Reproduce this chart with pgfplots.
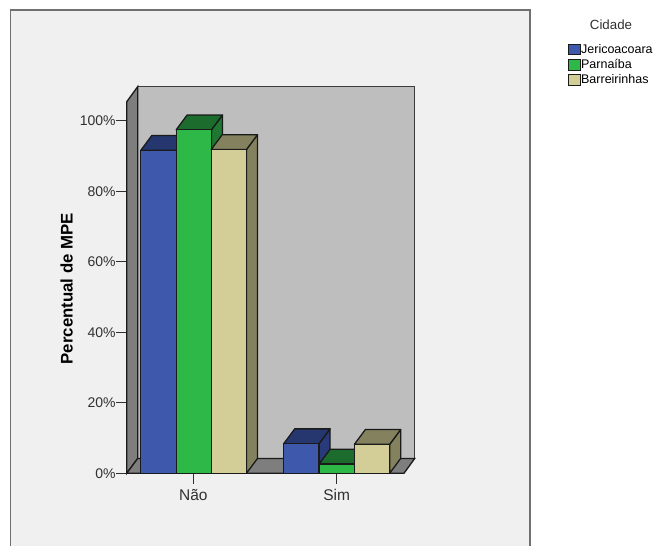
\documentclass[border=0pt]{standalone}
\usepackage{fontspec}
\setmainfont{Liberation Sans}
\usepackage{pgfplots}
\pgfplotsset{compat=1.18}

\definecolor{panelfill}{HTML}{F0F0F0}
\definecolor{panelline}{HTML}{707070}
\definecolor{wallback}{HTML}{BEBEBE}
\definecolor{wallside}{HTML}{7E7E7E}
\definecolor{edge}{HTML}{1A1A1A}
\definecolor{labeltext}{HTML}{303030}
\definecolor{blueF}{HTML}{3E58AC}
\definecolor{blueT}{HTML}{26376F}
\definecolor{blueS}{HTML}{283A7A}
\definecolor{greenF}{HTML}{2EB848}
\definecolor{greenT}{HTML}{1C6C2E}
\definecolor{greenS}{HTML}{1E7832}
\definecolor{beigeF}{HTML}{D3CE97}
\definecolor{beigeT}{HTML}{84825E}
\definecolor{beigeS}{HTML}{84825E}

% Extruded bar: side face, top face, then the front face.
% Arguments: x centre, value, colour stem.
\newcommand{\extrudedbar}[3]{%
  \pgfmathsetmacro{\xl}{#1-17.65}%
  \pgfmathsetmacro{\xr}{#1+17.65}%
  \pgfmathsetmacro{\xlb}{\xl+11}%
  \pgfmathsetmacro{\xrb}{\xr+11}%
  \pgfmathsetmacro{\vb}{#2+4.2}%
  \addplot[forget plot,fill=#3S,draw=edge,line width=1.3pt,line join=round]
    coordinates {(\xr,0) (\xrb,4.2) (\xrb,\vb) (\xr,#2)} --cycle;
  \addplot[forget plot,fill=#3T,draw=edge,line width=1.3pt,line join=round]
    coordinates {(\xl,#2) (\xlb,\vb) (\xrb,\vb) (\xr,#2)} --cycle;
  \addplot[forget plot,ybar,bar shift=0pt,bar width=35.3pt,fill=#3F,draw=edge,line width=1.3pt]
    coordinates {(#1,#2)};
}

\begin{document}
\begin{tikzpicture}[x=1pt,y=1pt]
  \path[use as bounding box,fill=white] (0,0) rectangle (654,546);
  \fill[panelfill] (10.5,0) rectangle (530,536);
  \draw[panelline,line width=1.4pt] (10.5,0) -- (10.5,536) -- (530,536) -- (530,0);
  \node[text=labeltext,font=\fontsize{13.3}{15}\selectfont] at (611,521) {Cidade};

  \begin{axis}[
    at={(126.7pt,72.7pt)},
    anchor=origin,
    scale only axis,
    width=277.3pt,
    height=371.5pt,
    xmin=0, xmax=277.3,
    ymin=0, ymax=105.35,
    clip=false,
    axis line style={draw=none},
    xtick={66.6,210},
    xticklabels={Não,Sim},
    ytick={0,20,40,60,80,100},
    yticklabels={0\%,20\%,40\%,60\%,80\%,100\%},
    xtick pos=bottom,
    ytick pos=left,
    tick align=outside,
    major tick length=10.5pt,
    tick style={draw=labeltext,line width=1pt},
    xticklabel style={text=labeltext,font=\fontsize{15.5}{17}\selectfont,yshift=-2pt},
    yticklabel style={text=labeltext,font=\fontsize{14}{16}\selectfont,xshift=3pt},
    ylabel={Percentual de MPE},
    ylabel style={font=\bfseries\fontsize{16.8}{18}\selectfont,text=black,at={(axis description cs:-0.217,0.497)},anchor=center},
    legend style={
      at={(1.593,1.156)},anchor=north west,
      draw=none,fill=none,inner sep=0pt,outer sep=0pt,
      font=\fontsize{12.5}{14}\selectfont,
      row sep=3.6pt,
      nodes={inner sep=0pt,outer sep=0pt},
      /tikz/every even column/.append style={column sep=4.5pt},
    },
    legend cell align=left,
    legend image code/.code={\draw[#1,line width=0.9pt] (0pt,-5.3pt) rectangle (11.8pt,5.3pt);},
  ]
    % Walls and floor of the plot box
    \addplot[forget plot,fill=wallback,draw=edge!85,line width=1.3pt]
      coordinates {(11,4.2) (288,4.2) (288,109.64) (11,109.64)} --cycle;
    \addplot[forget plot,fill=wallside,draw=edge,line width=1.3pt]
      coordinates {(0,0) (11,4.2) (11,109.64) (0,105.35)} --cycle;
    \addplot[forget plot,fill=wallside,draw=edge,line width=1.3pt]
      coordinates {(0,0) (277.3,0) (288,4.2) (11,4.2)} --cycle;

    % Não
    \extrudedbar{31.8}{91.6}{blue}
    \extrudedbar{67.1}{97.4}{green}
    \extrudedbar{102.1}{91.8}{beige}
    % Sim
    \extrudedbar{174.7}{8.4}{blue}
    \extrudedbar{210}{2.6}{green}
    \extrudedbar{245.3}{8.2}{beige}

    \addlegendimage{fill=blueF,draw=edge}
    \addlegendentry{Jericoacoara}
    \addlegendimage{fill=greenF,draw=edge}
    \addlegendentry{Parnaíba}
    \addlegendimage{fill=beigeF,draw=edge}
    \addlegendentry{Barreirinhas}
  \end{axis}
\end{tikzpicture}
\end{document}
